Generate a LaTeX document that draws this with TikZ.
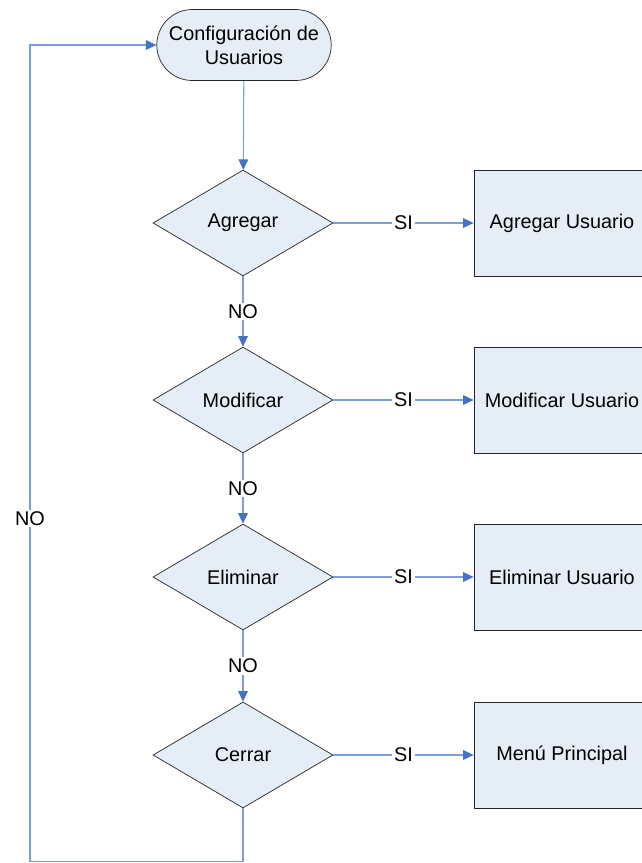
\documentclass[tikz,border=0pt]{standalone}
\usepackage{fontspec}
\setmainfont{Liberation Sans}
\usepackage{tikz}
\usetikzlibrary{shapes.geometric, shapes.misc, arrows.meta, positioning}
\definecolor{shapefill}{rgb}{0.90,0.93,0.97}
\definecolor{linkblue}{rgb}{0.49,0.62,0.84}
\definecolor{tipblue}{rgb}{0.27,0.45,0.77}

\begin{document}
\begin{tikzpicture}[x=0.02cm, y=-0.02cm,
    every node/.style={font=\fontsize{11.3}{13.6}\selectfont},
    term/.style={rounded rectangle, draw=black!85, fill=shapefill, minimum width=3.56cm, minimum height=1.42cm, align=center, inner sep=1pt},
    decision/.style={diamond, aspect=1.7, draw=black!85, fill=shapefill, minimum width=3.6cm, minimum height=2.12cm, inner sep=0pt},
    box/.style={rectangle, draw=black!85, fill=shapefill, minimum width=3.52cm, minimum height=2.12cm, align=center},
    arrow/.style={-{Triangle[length=6pt, width=5.5pt, color=tipblue]}, draw=linkblue, line width=0.6pt},
    lbl/.style={fill=white, inner sep=1pt}
]
\useasboundingbox (0,0) rectangle (642,863);

\node[term] (config) at (244,45) {Configuración de\\Usuarios};

\node[decision] (agregar) at (243,223) {Agregar};
\node[decision] (modificar) at (243,400) {Modificar};
\node[decision] (eliminar) at (243,577) {Eliminar};
\node[decision] (cerrar) at (243,755) {Cerrar};

\node[box] (agregarus) at (562,223) {Agregar Usuario};
\node[box] (modificarus) at (562,400) {Modificar Usuario};
\node[box] (eliminarus) at (562,577) {Eliminar Usuario};
\node[box] (menu) at (562,755) {Menú Principal};

\coordinate (retorno) at (30,861.5);

\draw[arrow] (config) -- (agregar);
\draw[arrow] (agregar) -- node[lbl] {NO} (modificar);
\draw[arrow] (modificar) -- node[lbl] {NO} (eliminar);
\draw[arrow] (eliminar) -- node[lbl] {NO} (cerrar);

\draw[arrow] (agregar) -- node[lbl] {SI} (agregarus);
\draw[arrow] (modificar) -- node[lbl] {SI} (modificarus);
\draw[arrow] (eliminar) -- node[lbl] {SI} (eliminarus);
\draw[arrow] (cerrar) -- node[lbl] {SI} (menu);

\draw[arrow] (cerrar.south) |- (retorno) |- node[lbl, pos=0.21] {NO} (config.west);

\end{tikzpicture}
\end{document}
